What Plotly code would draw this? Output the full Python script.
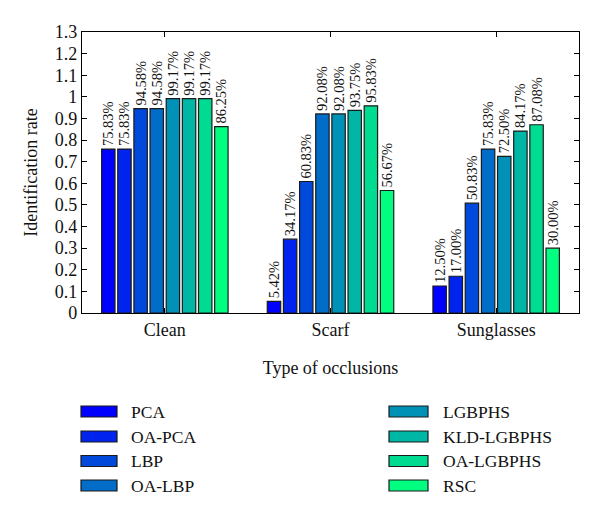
import plotly.graph_objects as go

categories = ["Clean", "Scarf", "Sunglasses"]
methods = ["PCA", "OA-PCA", "LBP", "OA-LBP", "LGBPHS", "KLD-LGBPHS", "OA-LGBPHS", "RSC"]
pca = [0.7583, 0.0542, 0.1250]
oa_pca = [0.7583, 0.3417, 0.1700]
lbp = [0.9458, 0.6083, 0.5083]
oa_lbp = [0.9458, 0.9208, 0.7583]
lgbphs = [0.9917, 0.9208, 0.7250]
kld_lgbphs = [0.9917, 0.9375, 0.8417]
oa_lgbphs = [0.9917, 0.9583, 0.8708]
rsc = [0.8625, 0.5667, 0.3000]
series = [pca, oa_pca, lbp, oa_lbp, lgbphs, kld_lgbphs, oa_lgbphs, rsc]
colors = ["#0000ff", "#0024ed", "#0049db", "#006dc8", "#0092b6", "#00b6a4", "#00db92", "#00ff80"]

FONT = "Liberation Serif"
OFF = 8  # page body margin
W, H = 600 - OFF, 518 - OFF
L, T = 82 - OFF, 32 - OFF
R = W - (579 - OFF)
B = H - (313 - OFF)
pw, ph = W - L - R, H - T - B

fig = go.Figure()
for name, vals, col in zip(methods, series, colors):
    fig.add_trace(go.Bar(
        x=categories, y=vals, name=name,
        marker=dict(color=col, line=dict(color="#1a1a1a", width=1.2)),
        texttemplate="%{y:.2%}", textposition="outside", textangle=-90,
        textfont=dict(family=FONT, size=14.5, color="#111"),
        constraintext="none", cliponaxis=False, showlegend=False,
    ))

# manual legend (two columns), positions in absolute page pixels
shapes, annots = [], []
row_y = [411.5, 436.5, 461, 485.5]
cols_px = [(81, 117, 129), (389, 428, 441)]
for i, (name, col) in enumerate(zip(methods, colors)):
    c = i // 4
    r = i % 4
    sx0, sx1, tx = [v - OFF for v in cols_px[c]]
    yc = row_y[r] - OFF
    shapes.append(dict(type="rect", xref="paper", yref="paper",
                       x0=(sx0 - L) / pw, x1=(sx1 - L) / pw,
                       y0=(T + ph - (yc + 5.5)) / ph, y1=(T + ph - (yc - 5.5)) / ph,
                       fillcolor=col, line=dict(color="#1a1a1a", width=1.2)))
    annots.append(dict(xref="paper", yref="paper", x=(tx - L) / pw, y=(T + ph - yc) / ph,
                       xanchor="left", yanchor="middle", text=name, showarrow=False,
                       font=dict(family=FONT, size=17.5, color="#111")))

fig.update_layout(
    width=W, height=H, margin=dict(l=L, r=R, t=T, b=B, autoexpand=False),
    paper_bgcolor="white", plot_bgcolor="white",
    barmode="group", bargap=0.22, bargroupgap=0.17,
    font=dict(family=FONT, size=18, color="#111"),
    shapes=shapes, annotations=annots, showlegend=False,
)
fig.update_xaxes(showline=True, linecolor="black", linewidth=1.3, mirror="ticks",
                 ticks="inside", ticklen=5, tickcolor="black", tickwidth=1.2,
                 range=[-0.5, 2.5], showgrid=False,
                 tickfont=dict(family=FONT, size=18),
                 title=dict(text="Type of occlusions", font=dict(family=FONT, size=18), standoff=22))
fig.update_yaxes(showline=True, linecolor="black", linewidth=1.3, mirror="ticks",
                 ticks="inside", ticklen=5, tickcolor="black", tickwidth=1.2,
                 range=[0, 1.3], dtick=0.1, tick0=0, showgrid=False, zeroline=False,
                 tickfont=dict(family=FONT, size=18),
                 title=dict(text="Identification rate", font=dict(family=FONT, size=18), standoff=12))

fig.write_html("out.html")
